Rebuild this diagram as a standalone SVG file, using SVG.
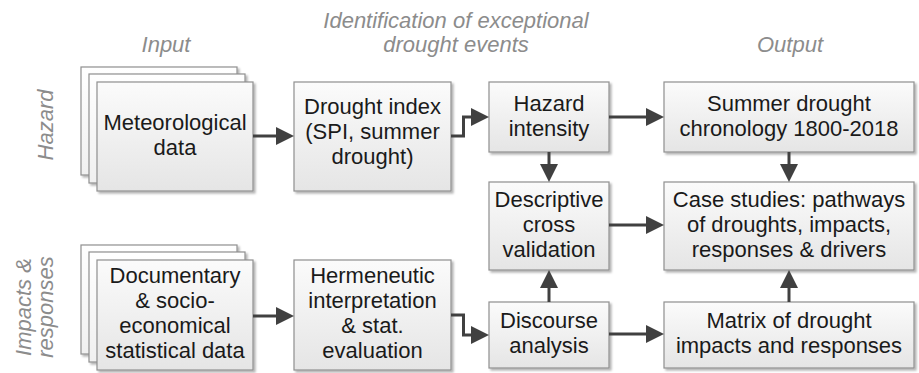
<svg xmlns="http://www.w3.org/2000/svg" width="919" height="373" viewBox="0 0 919 373">
<style>
.box{fill:url(#g);stroke:#8f8f8f;stroke-width:1.2;filter:url(#sh)}
.back{fill:url(#g2);stroke:#8f8f8f;stroke-width:1.2;filter:url(#sh)}
.t{font-family:"Liberation Sans",Arial,sans-serif;font-size:22px;fill:#1a1a1a;text-anchor:middle}
.lab{font-family:"Liberation Sans",Arial,sans-serif;font-size:22px;font-style:italic;fill:#8c8c8c;text-anchor:middle}
.c{fill:none;stroke:#404040;stroke-width:3;marker-end:url(#ah)}
</style>
<defs>
<linearGradient id="g" x1="0" y1="0" x2="0" y2="1"><stop offset="0" stop-color="#fbfbfb"/><stop offset="1" stop-color="#e5e5e5"/></linearGradient>
<linearGradient id="g2" x1="0" y1="0" x2="0" y2="1"><stop offset="0" stop-color="#ffffff"/><stop offset="1" stop-color="#f0f0f0"/></linearGradient>
<filter id="sh" x="-5%" y="-5%" width="115%" height="115%"><feDropShadow dx="2" dy="2" stdDeviation="1.3" flood-color="#000" flood-opacity="0.3"/></filter>
<marker id="ah" markerUnits="userSpaceOnUse" markerWidth="19" markerHeight="19" refX="1" refY="9" orient="auto"><path d="M0,0 L18,9 L0,18 z" fill="#404040"/></marker>
</defs>
<g id="labels">
<text class="lab" x="166" y="52">Input</text>
<text class="lab" x="456" y="28">Identification of exceptional</text>
<text class="lab" x="456" y="52">drought events</text>
<text class="lab" x="790" y="52">Output</text>
<text class="lab" transform="translate(53,125) rotate(-90)">Hazard</text>
<text class="lab" transform="translate(31,307) rotate(-90)">Impacts &amp;</text>
<text class="lab" transform="translate(53,307) rotate(-90)">responses</text>
</g>
<g id="meteorological">
<rect class="back" x="81" y="67" width="156" height="108"/>
<rect class="back" x="89" y="74" width="156" height="109"/>
<rect class="box" x="97" y="82" width="156" height="109"/>
<text class="t" x="175" y="130">Meteorological</text>
<text class="t" x="175" y="155">data</text>
</g>
<g id="drought-index">
<rect class="box" x="294" y="82" width="157" height="109"/>
<text class="t" x="372.5" y="114">Drought index</text>
<text class="t" x="372.5" y="139">(SPI, summer</text>
<text class="t" x="372.5" y="164">drought)</text>
</g>
<g id="hazard-intensity">
<rect class="box" x="489" y="82" width="120" height="70"/>
<text class="t" x="549" y="111">Hazard</text>
<text class="t" x="549" y="136">intensity</text>
</g>
<g id="summer-drought">
<rect class="box" x="664" y="82" width="250" height="70"/>
<text class="t" x="789" y="111">Summer drought</text>
<text class="t" x="789" y="136">chronology 1800-2018</text>
</g>
<g id="descriptive">
<rect class="box" x="489" y="182" width="120" height="88"/>
<text class="t" x="549" y="207">Descriptive</text>
<text class="t" x="549" y="232">cross</text>
<text class="t" x="549" y="257">validation</text>
</g>
<g id="case-studies">
<rect class="box" x="664" y="182" width="250" height="88"/>
<text class="t" x="789" y="207">Case studies: pathways</text>
<text class="t" x="789" y="232">of droughts, impacts,</text>
<text class="t" x="789" y="257">responses &amp; drivers</text>
</g>
<g id="documentary">
<rect class="back" x="81" y="245" width="156" height="109"/>
<rect class="back" x="89" y="252" width="156" height="110"/>
<rect class="box" x="97" y="260" width="156" height="110"/>
<text class="t" x="175" y="283">Documentary</text>
<text class="t" x="175" y="308">&amp; socio-</text>
<text class="t" x="175" y="333">economical</text>
<text class="t" x="175" y="358">statistical data</text>
</g>
<g id="hermeneutic">
<rect class="box" x="294" y="260" width="157" height="110"/>
<text class="t" x="372.5" y="283">Hermeneutic</text>
<text class="t" x="372.5" y="308">interpretation</text>
<text class="t" x="372.5" y="333">&amp; stat.</text>
<text class="t" x="372.5" y="358">evaluation</text>
</g>
<g id="discourse">
<rect class="box" x="489" y="302" width="120" height="66"/>
<text class="t" x="549" y="328">Discourse</text>
<text class="t" x="549" y="353">analysis</text>
</g>
<g id="matrix">
<rect class="box" x="664" y="302" width="250" height="66"/>
<text class="t" x="789" y="328">Matrix of drought</text>
<text class="t" x="789" y="353">impacts and responses</text>
</g>
<g id="connectors">
<path class="c" d="M253,136 H277"/>
<path class="c" d="M451,136 H463.5 V117 H472"/>
<path class="c" d="M609,117 H647"/>
<path class="c" d="M549,152 V165"/>
<path class="c" d="M789,152 V165"/>
<path class="c" d="M609,225 H647"/>
<path class="c" d="M253,316 H277"/>
<path class="c" d="M451,315 H463.5 V335 H472"/>
<path class="c" d="M549,302 V287"/>
<path class="c" d="M609,334 H647"/>
<path class="c" d="M789,302 V287"/>
</g>
</svg>
